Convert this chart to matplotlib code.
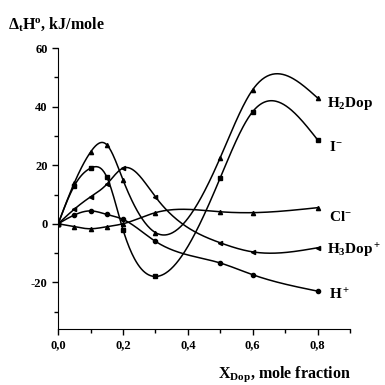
"""Enthalpy of transfer vs dopant mole fraction, spline-smoothed curves."""

import numpy as np
import matplotlib
matplotlib.use("Agg")
import matplotlib.pyplot as plt
from matplotlib.ticker import MultipleLocator, FuncFormatter

plt.rcParams["font.family"] = ["Liberation Serif", "DejaVu Serif"]
plt.rcParams["font.weight"] = "bold"
plt.rcParams["axes.unicode_minus"] = False
plt.rcParams["mathtext.fontset"] = "custom"
plt.rcParams["mathtext.rm"] = "Liberation Serif:bold"
plt.rcParams["mathtext.it"] = "Liberation Serif:bold"
plt.rcParams["mathtext.bf"] = "Liberation Serif:bold"

x_dop = [0.0, 0.05, 0.1, 0.15, 0.2, 0.3, 0.5, 0.6, 0.8]
h2dop = [0, 14, 24.5, 27, 15, -3, 22.6, 45.8, 43]
iodide = [0, 13, 19, 16, -2, -18, 15.7, 38.3, 28.7]
chloride = [0, -1, -1.7, -1, 0, 3.8, 4.1, 3.8, 5.5]
h3dop = [0, 5, 9.2, 13.5, 19, 9.2, -6.5, -9.6, -8.2]
proton = [0, 3, 4.4, 3.2, 1.5, -6, -13.4, -17.4, -23]

series = [
    ("H$_2$Dop", h2dop, "^", (7, -4)),
    ("I$^{-}$", iodide, "s", (8, -5)),
    ("Cl$^{-}$", chloride, "^", (8, -7)),
    ("H$_3$Dop$^+$", h3dop, "<", (7, -2)),
    ("H$^+$", proton, "o", (8, -3)),
]


def natural_spline(x, y, n=300):
    x = np.asarray(x, float)
    y = np.asarray(y, float)
    k = len(x)
    h = np.diff(x)
    A = np.zeros((k, k))
    b = np.zeros(k)
    A[0, 0] = A[-1, -1] = 1
    for i in range(1, k - 1):
        A[i, i - 1] = h[i - 1]
        A[i, i] = 2 * (h[i - 1] + h[i])
        A[i, i + 1] = h[i]
        b[i] = 6 * ((y[i + 1] - y[i]) / h[i] - (y[i] - y[i - 1]) / h[i - 1])
    M = np.linalg.solve(A, b)
    xs = np.linspace(x[0], x[-1], n)
    j = np.clip(np.searchsorted(x, xs) - 1, 0, k - 2)
    t0 = x[j + 1] - xs
    t1 = xs - x[j]
    hj = h[j]
    ys = (M[j] * t0**3 + M[j + 1] * t1**3) / (6 * hj) \
        + (y[j] / hj - M[j] * hj / 6) * t0 + (y[j + 1] / hj - M[j + 1] * hj / 6) * t1
    return xs, ys


fig = plt.figure(figsize=(3.85, 3.85), dpi=100)
ax = fig.add_axes([0.151, 0.145, 0.758, 0.730])

for name, vals, mk, off in series:
    xs, ys = natural_spline(x_dop, vals)
    ax.plot(xs, ys, color="black", lw=1.1)
    ax.plot(x_dop, vals, ls="none", marker=mk, ms=3, color="black")
    ax.annotate(name, xy=(x_dop[-1], vals[-1]), xytext=off,
                textcoords="offset points", ha="left", va="center",
                fontsize=11, fontweight="bold", annotation_clip=False)

ax.set_xlim(0, 0.9)
ax.set_ylim(-36, 60)
ax.spines["top"].set_visible(False)
ax.spines["right"].set_visible(False)
ax.xaxis.set_major_locator(MultipleLocator(0.2))
ax.xaxis.set_minor_locator(MultipleLocator(0.1))
ax.yaxis.set_major_locator(MultipleLocator(20))
ax.yaxis.set_minor_locator(MultipleLocator(10))
ax.xaxis.set_major_formatter(FuncFormatter(lambda v, p: f"{v:.1f}".replace(".", ",")))
ax.yaxis.set_major_formatter(FuncFormatter(lambda v, p: f"{v:.0f}"))
ax.tick_params(which="both", direction="out", labelsize=9, width=1)
ax.tick_params(which="major", length=4)
ax.tick_params(which="minor", length=3)

fig.text(0.02, 0.925, "Δ$_t$H$^o$, kJ/mole", fontsize=11.5, fontweight="bold")
fig.text(0.565, 0.02, "X$_{Dop}$, mole fraction", fontsize=11.5, fontweight="bold")

fig.savefig("out.png", dpi=100)
